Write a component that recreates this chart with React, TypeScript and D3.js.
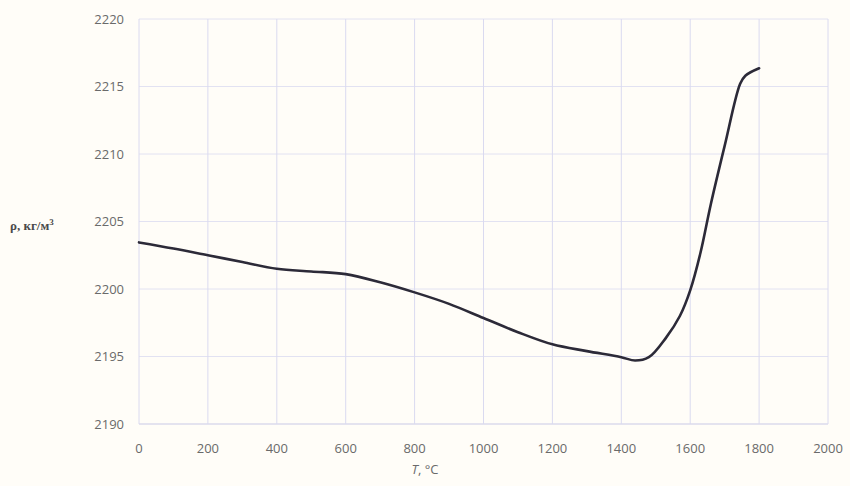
import React from "react";
import * as d3 from "d3";

const temps = [0, 100, 200, 300, 400, 500, 600, 700, 800, 900, 1000, 1100, 1200, 1300, 1400, 1440, 1480, 1530, 1570, 1600, 1630, 1660, 1700, 1745, 1760, 1800];
const density = [2203.45, 2203.0, 2202.5, 2202.0, 2201.5, 2201.3, 2201.1, 2200.5, 2199.75, 2198.9, 2197.85, 2196.8, 2195.9, 2195.4, 2194.95, 2194.7, 2194.95, 2196.4, 2198.0, 2199.9, 2202.7, 2206.3, 2210.6, 2215.2, 2215.8, 2216.35];
const xTicks = [0, 200, 400, 600, 800, 1000, 1200, 1400, 1600, 1800, 2000];
const yTicks = [2190, 2195, 2200, 2205, 2210, 2215, 2220];

const W = 850;
const H = 486;
const left = 139;
const right = 828;
const top = 19;
const bottom = 424;

export default function App() {
  const x = d3.scaleLinear().domain([0, 2000]).range([left, right]);
  const y = d3.scaleLinear().domain([2190, 2220]).range([bottom, top]);
  const pts: [number, number][] = temps.map((t, i) => [t, density[i]]);
  const line = d3
    .line<[number, number]>()
    .x((d) => x(d[0]))
    .y((d) => y(d[1]))
    .curve(d3.curveCatmullRom.alpha(0.5));

  const tickFont = "'Open Sans', 'DejaVu Sans', sans-serif";
  return (
    <svg
      width={W}
      height={H}
      style={{ position: "absolute", left: 0, top: 0, background: "#fffdf8" }}
    >
      <rect x={0} y={0} width={W} height={H} fill="#fffdf8" />
      {yTicks.map((v) => (
        <line
          key={"gy" + v}
          x1={left}
          x2={right}
          y1={y(v)}
          y2={y(v)}
          stroke={v === 2190 ? "#c9c9e6" : "#e2e2f2"}
          strokeWidth={1}
        />
      ))}
      {xTicks.map((v) => (
        <line
          key={"gx" + v}
          x1={x(v)}
          x2={x(v)}
          y1={top}
          y2={bottom}
          stroke="#dadaf0"
          strokeWidth={1}
        />
      ))}
      {yTicks.map((v) => (
        <text
          key={"ty" + v}
          x={left - 15}
          y={y(v) + 4.5}
          textAnchor="end"
          fontFamily={tickFont}
          fontSize={13}
          fill="#6a6a6a"
        >
          {v}
        </text>
      ))}
      {xTicks.map((v) => (
        <text
          key={"tx" + v}
          x={x(v)}
          y={bottom + 29}
          textAnchor="middle"
          fontFamily={tickFont}
          fontSize={13}
          fill="#6a6a6a"
        >
          {v}
        </text>
      ))}
      <path d={line(pts) ?? ""} fill="none" stroke="#2c2a38" strokeWidth={2.6} strokeLinejoin="round" strokeLinecap="round" />
      <text
        x={10}
        y={230}
        fontFamily="'Liberation Serif', 'DejaVu Serif', serif"
        fontWeight="bold"
        fontSize={13}
        fill="#4a4a4a"
      >
        ρ, кг/м
        <tspan dy={-5} fontSize={9}>3</tspan>
      </text>
      <text
        x={425}
        y={474}
        textAnchor="middle"
        fontFamily={tickFont}
        fontSize={13}
        fill="#6a6a6a"
      >
        <tspan fontStyle="italic">T</tspan>, °C
      </text>
    </svg>
  );
}
